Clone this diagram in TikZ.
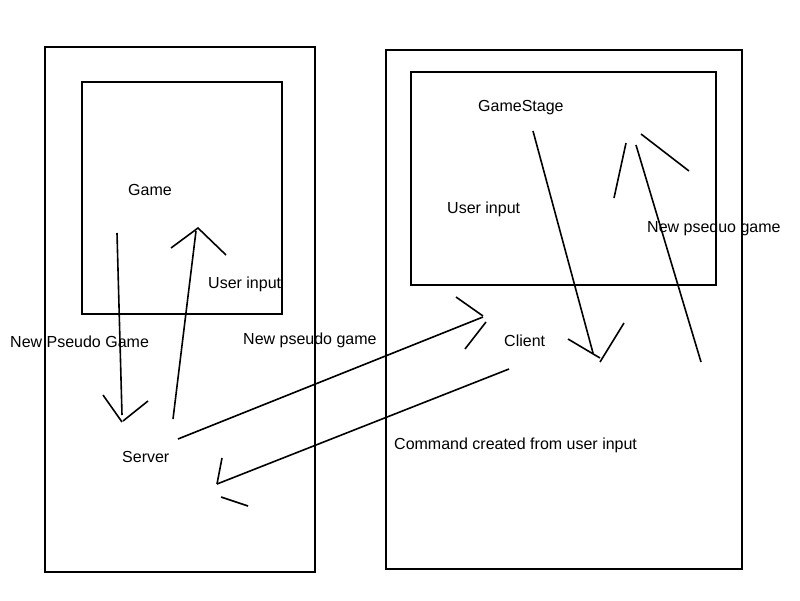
\documentclass[tikz,border=0pt]{standalone}
\usepackage{fontspec}
\setmainfont{Liberation Sans}
\begin{document}
\begin{tikzpicture}[x=1pt,y=-1pt,
  box/.style={draw=black,line width=1.6pt},
  stroke/.style={draw=black,line width=1.6pt},
  lbl/.style={anchor=base west,inner sep=0pt,font=\fontsize{16pt}{19pt}\selectfont}]
\useasboundingbox[fill=white] (0,0) rectangle (800,600);
% boxes
\draw[box] (45,47) rectangle (315,572);
\draw[box] (82,82) rectangle (282,314);
\draw[box] (386,50) rectangle (742,569);
\draw[box] (411,72) rectangle (716,285);
% labels
\node[lbl] (game) at (128,195) {Game};
\node[lbl] (uinL) at (208,288) {User input};
\node[lbl] (npgL) at (10,347) {New Pseudo Game};
\node[lbl] (npgM) at (243,344) {New pseudo game};
\node[lbl] (server) at (122,462) {Server};
\node[lbl] (gstage) at (478,111) {GameStage};
\node[lbl] (uinR) at (447,213) {User input};
\node[lbl] (npgR) at (647,232) {New pseduo game};
\node[lbl] (client) at (504,346) {Client};
\node[lbl] (cmd) at (394,449) {Command created from user input};
% coordinates
\coordinate (a1) at (117,233); \coordinate (a2) at (122,415);
\coordinate (a3) at (103,395); \coordinate (a4) at (122,422);
\coordinate (a5) at (123,421); \coordinate (a6) at (148,401);
\coordinate (b1) at (173,419); \coordinate (b2) at (196,231);
\coordinate (b3) at (171,248); \coordinate (b4) at (198,228); \coordinate (b5) at (226,255);
\coordinate (c1) at (178,439); \coordinate (c2) at (483,317);
\coordinate (c3) at (456,297); \coordinate (c4) at (483,316);
\coordinate (c5) at (486,322); \coordinate (c6) at (465,349);
\coordinate (d1) at (509,369); \coordinate (d2) at (217,484);
\coordinate (d3) at (222,458); \coordinate (d4) at (217,484);
\coordinate (d5) at (221,497); \coordinate (d6) at (248,506);
\coordinate (e1) at (533,131); \coordinate (e2) at (593,353);
\coordinate (e3) at (568,339); \coordinate (e4) at (600,358);
\coordinate (e5) at (600,362); \coordinate (e6) at (624,323);
\coordinate (f1) at (636,145); \coordinate (f2) at (701,362);
\coordinate (f3) at (626,143); \coordinate (f4) at (614,198);
\coordinate (f5) at (641,134); \coordinate (f6) at (689,171);
% strokes
\draw[stroke] (a1) -- (a2);
\draw[stroke] (a3) -- (a4);
\draw[stroke] (a5) -- (a6);
\draw[stroke] (b1) -- (b2);
\draw[stroke] (b3) -- (b4) -- (b5);
\draw[stroke] (c1) -- (c2);
\draw[stroke] (c3) -- (c4);
\draw[stroke] (c5) -- (c6);
\draw[stroke] (d1) -- (d2);
\draw[stroke] (d3) -- (d4);
\draw[stroke] (d5) -- (d6);
\draw[stroke] (e1) -- (e2);
\draw[stroke] (e3) -- (e4);
\draw[stroke] (e5) -- (e6);
\draw[stroke] (f1) -- (f2);
\draw[stroke] (f3) -- (f4);
\draw[stroke] (f5) -- (f6);
\end{tikzpicture}
\end{document}
